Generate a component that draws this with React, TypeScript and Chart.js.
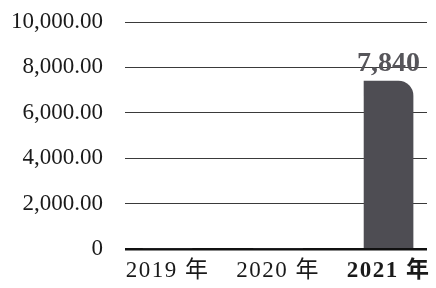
import { useEffect, useRef } from 'react';
import { Chart, registerables } from 'chart.js';

Chart.register(...registerables);

const categories = ['2019 年', '2020 年', '2021 年'];
const categoryPositions = [0, 1, 2];
const barValues = [0, 0, 7400];
const valueLabels = ['', '', '7,840'];
const yTickValues = [0, 2000, 4000, 6000, 8000, 10000];
const highlightIndex = 2;

const SERIF = "'Liberation Serif', 'Times New Roman', 'Noto Sans CJK SC', serif";

const valueLabelPlugin = {
  id: 'valueLabel',
  afterDatasetsDraw(chart: any) {
    const meta = chart.getDatasetMeta(0);
    const ctx = chart.ctx;
    ctx.save();
    ctx.font = `bold 28px ${SERIF}`;
    ctx.fillStyle = '#56555a';
    ctx.textAlign = 'center';
    ctx.textBaseline = 'alphabetic';
    meta.data.forEach((bar: any, i: number) => {
      const t = valueLabels[i];
      if (!t) return;
      ctx.fillText(t, bar.x, bar.y - 10);
    });
    ctx.restore();
    // x-axis labels (drawn in a later layer) use a slightly wider letter spacing
    (ctx as any).letterSpacing = '1.5px';
  },
  afterDraw(chart: any) {
    (chart.ctx as any).letterSpacing = '0px';
  },
};

export default function App() {
  const ref = useRef<HTMLCanvasElement | null>(null);

  useEffect(() => {
    if (!ref.current) return;
    const chart = new Chart(ref.current, {
      type: 'bar',
      data: {
        datasets: [
          {
            data: categoryPositions.map((x, i) => ({ x, y: barValues[i] })),
            backgroundColor: '#4e4d53',
            borderWidth: 0,
            borderRadius: { topLeft: 0, topRight: 15, bottomLeft: 0, bottomRight: 0 },
            borderSkipped: 'bottom',
            barThickness: 49,
          } as any,
        ],
      },
      options: {
        animation: false,
        responsive: true,
        maintainAspectRatio: false,
        layout: { padding: { top: 22, right: 9, bottom: 0, left: 0 } },
        plugins: {
          legend: { display: false },
          tooltip: { enabled: false },
        },
        scales: {
          x: {
            type: 'linear',
            offset: false,
            min: -0.385,
            max: 2.348,
            afterBuildTicks: (scale: any) => {
              scale.ticks = categoryPositions.map((v) => ({ value: v }));
            },
            afterFit: (scale: any) => {
              scale.height = 39;
            },
            grid: { display: false, drawTicks: false, offset: false },
            border: { display: false },
            ticks: {
              z: 1,
              autoSkip: false,
              maxRotation: 0,
              padding: 8,
              color: '#1a1a1a',
              font: (ctx: any) => ({
                family: SERIF,
                size: 23,
                weight: ctx.index === highlightIndex ? 'bold' : 'normal',
              }),
              callback: (v: any) => {
                const i = categoryPositions.indexOf(Number(v));
                return i >= 0 ? categories[i] : '';
              },
            },
          },
          y: {
            min: 0,
            max: 10000,
            afterBuildTicks: (scale: any) => {
              scale.ticks = yTickValues.map((v) => ({ value: v }));
            },
            afterFit: (scale: any) => {
              scale.width = 125;
            },
            grid: {
              drawTicks: true,
              tickLength: 22,
              tickColor: 'rgba(0,0,0,0)',
              color: (ctx: any) => (ctx.tick && ctx.tick.value === 0 ? '#111' : '#3a3a3a'),
              lineWidth: (ctx: any) => (ctx.tick && ctx.tick.value === 0 ? 2.5 : 1),
            },
            border: { display: false },
            ticks: {
              padding: 0,
              color: '#1a1a1a',
              font: { family: SERIF, size: 23 },
              callback: (v: any) =>
                Number(v) === 0
                  ? '0'
                  : Number(v).toLocaleString('en-US', { minimumFractionDigits: 2, maximumFractionDigits: 2 }),
            },
          },
        },
      },
      plugins: [valueLabelPlugin],
    });
    return () => chart.destroy();
  }, []);

  return (
    <div style={{ position: 'absolute', left: 0, top: 0, width: 436, height: 288 }}>
      <canvas ref={ref} />
    </div>
  );
}
